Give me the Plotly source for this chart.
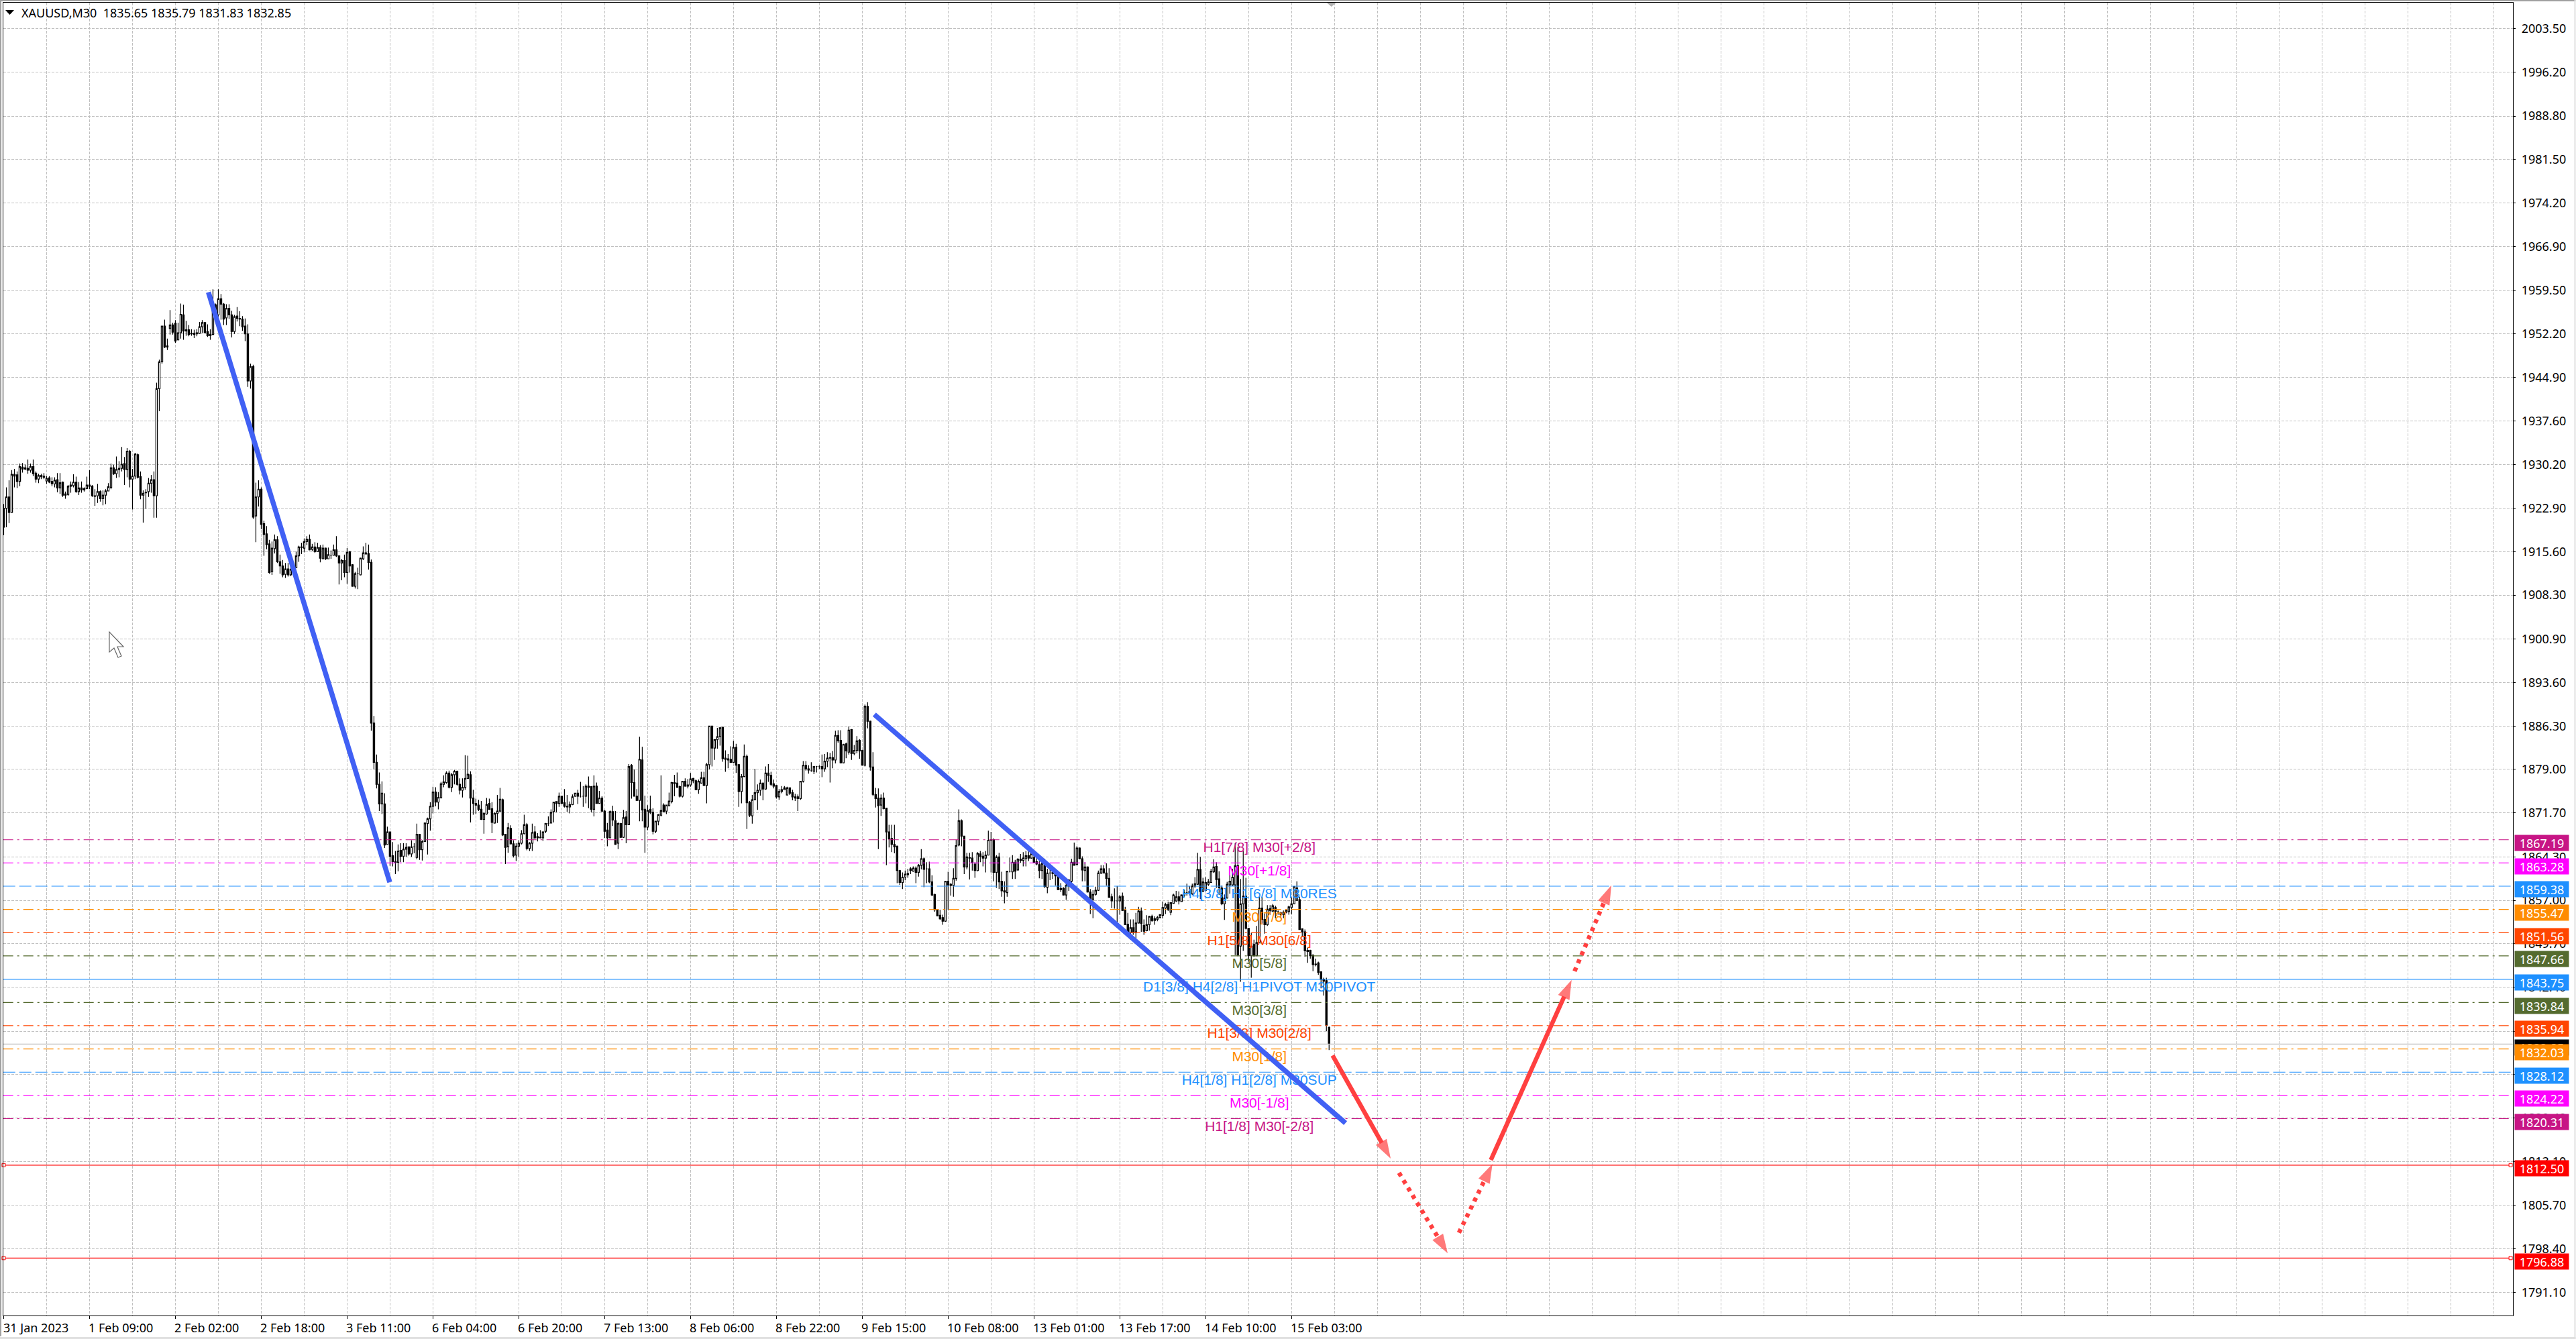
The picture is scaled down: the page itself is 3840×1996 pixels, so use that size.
import plotly.graph_objects as go

# chart size in screen pixels
W, H = 3840, 1996
ML, MR, MT, MB = 5, 93.5, 4, 35

open_prices = [
    1922.9,1922.9,1924.8,1922.2,1928.6,1928.5,1927.4,1929.8,1929.7,1929.6,
    1929.3,1929.9,1928.8,1927.8,1928.4,1928.3,1927.5,1928.0,1927.4,1927.0,
    1927.7,1926.3,1927.3,1925.1,1925.2,1926.6,1926.7,1927.3,1925.7,1926.3,
    1926.0,1926.2,1926.8,1926.6,1925.0,1925.0,1925.7,1924.5,1925.1,1925.8,
    1926.4,1929.7,1928.7,1929.4,1929.6,1930.4,1929.4,1932.5,1927.8,1928.3,
    1931.9,1928.2,1925.1,1925.6,1925.7,1927.1,1927.7,1925.0,1943.0,1947.5,
    1953.5,1950.2,1953.1,1953.7,1954.0,1951.2,1952.4,1955.4,1952.9,1952.9,
    1952.3,1952.3,1952.2,1952.3,1953.4,1954.1,1952.6,1951.9,1952.1,1957.1,
    1955.4,1958.1,1957.2,1954.9,1956.5,1955.4,1952.6,1955.2,1954.8,1954.7,
    1953.5,1952.2,1944.3,1946.7,1921.6,1924.8,1926.1,1920.3,1918.6,1916.9,
    1912.2,1916.1,1917.6,1913.9,1913.2,1911.8,1912.7,1911.7,1912.6,1912.9,
    1914.9,1916.3,1916.2,1917.3,1917.7,1916.0,1916.4,1915.6,1916.3,1914.4,
    1916.2,1914.4,1915.0,1915.0,1915.9,1914.9,1913.7,1914.1,1912.1,1915.6,
    1913.4,1909.8,1911.9,1911.7,1914.4,1915.4,1915.3,1913.8,1886.8,1880.2,
    1876.5,1873.2,1873.2,1866.4,1868.5,1864.5,1863.5,1863.4,1865.4,1864.4,
    1865.6,1866.0,1864.8,1866.0,1864.2,1868.1,1865.5,1866.9,1869.9,1870.7,
    1872.8,1875.2,1873.5,1874.3,1876.5,1876.8,1878.4,1876.0,1878.1,1878.7,
    1876.5,1875.5,1876.0,1877.5,1878.1,1874.2,1873.3,1873.0,1872.3,1870.6,
    1871.5,1873.3,1872.4,1870.0,1871.6,1872.0,1873.9,1868.1,1866.0,1869.1,
    1866.5,1864.6,1866.1,1866.6,1868.2,1869.7,1865.7,1866.6,1868.5,1867.7,
    1867.6,1867.5,1868.6,1869.9,1870.0,1871.9,1873.6,1873.3,1874.5,1873.4,
    1872.8,1872.7,1873.1,1874.5,1875.0,1874.5,1874.5,1874.5,1876.2,1876.1,
    1872.3,1876.2,1873.3,1874.2,1872.0,1868.8,1867.5,1871.9,1870.4,1866.6,
    1869.9,1867.6,1871.0,1869.7,1879.7,1876.8,1874.5,1873.8,1880.6,1872.3,
    1869.3,1872.3,1871.8,1868.6,1870.3,1871.3,1873.0,1872.0,1872.9,1873.6,
    1876.8,1876.7,1876.1,1874.5,1877.0,1876.2,1876.4,1877.5,1877.1,1875.6,
    1876.7,1877.6,1876.3,1879.8,1886.3,1882.6,1884.0,1884.5,1886.1,1880.9,
    1880.8,1880.7,1880.2,1882.7,1879.8,1875.3,1877.8,1881.2,1873.5,1871.2,
    1873.9,1875.1,1875.5,1876.7,1875.7,1878.4,1878.0,1876.6,1876.3,1874.4,
    1875.3,1875.6,1874.7,1875.9,1875.1,1874.4,1874.4,1874.1,1877.0,1879.7,
    1879.1,1878.8,1878.7,1879.5,1879.5,1879.5,1879.1,1880.4,1880.9,1881.0,
    1880.6,1884.7,1883.9,1880.1,1883.3,1881.9,1885.7,1881.7,1882.2,1883.9,
    1882.2,1879.7,1889.6,1887.1,1879.4,1874.8,1874.2,1873.0,1874.2,1872.5,
    1868.5,1867.4,1866.4,1866.1,1862.0,1860.0,1860.9,1861.3,1862.3,1861.9,
    1862.4,1861.7,1862.9,1864.0,1862.3,1862.3,1860.1,1858.0,1855.4,1854.5,
    1854.1,1853.5,1860.2,1859.7,1859.5,1860.7,1866.3,1870.4,1867.8,1862.6,
    1864.2,1864.1,1863.1,1862.0,1864.8,1864.4,1864.1,1864.6,1867.1,1867.2,
    1861.7,1864.3,1860.2,1858.6,1858.3,1861.9,1861.8,1863.4,1862.1,1863.9,
    1863.7,1864.0,1864.5,1864.1,1864.2,1863.5,1863.0,1862.0,1862.9,1859.2,
    1861.6,1861.7,1861.5,1861.1,1859.0,1859.0,1857.9,1859.4,1860.2,1863.4,
    1863.0,1865.8,1864.0,1862.0,1862.6,1858.4,1857.2,1858.0,1858.7,1861.6,
    1862.3,1861.6,1860.7,1857.6,1856.9,1856.9,1856.9,1857.7,1855.4,1853.0,
    1851.6,1852.4,1851.7,1853.2,1855.2,1852.8,1851.9,1852.9,1854.3,1853.6,
    1853.8,1854.1,1854.5,1855.7,1856.3,1855.0,1856.5,1856.9,1857.6,1856.8,
    1857.8,1858.3,1858.3,1858.1,1859.4,1859.7,1862.2,1858.5,1858.7,1859.7,
    1860.0,1861.8,1862.7,1860.6,1859.1,1856.4,1857.4,1859.6,1859.6,1859.6,
    1862.8,1849.3,1856.4,1857.7,1852.3,1847.7,1849.6,1847.7,1849.9,1855.7,
    1853.8,1852.9,1855.6,1855.2,1855.8,1855.1,1854.6,1854.6,1855.0,1855.1,
    1855.8,1856.4,1857.0,1857.1,1852.2,1851.7,1848.4,1848.6,1847.8,1846.3,
    1846.5,1845.0,1843.7,1843.5,1835.65,
]
high_prices = [
    1923.6,1926.4,1927.6,1929.3,1929.5,1929.1,1930.4,1930.5,1930.2,1931.1,
    1930.4,1931.1,1929.1,1928.7,1928.7,1928.8,1928.3,1928.3,1928.1,1928.1,
    1928.8,1928.8,1927.4,1925.7,1926.8,1927.4,1928.6,1928.2,1927.3,1927.4,
    1926.4,1928.2,1929.3,1926.8,1926.1,1927.0,1925.9,1925.9,1926.1,1927.1,
    1930.4,1930.2,1931.6,1930.8,1933.2,1931.5,1933.0,1932.7,1929.5,1932.2,
    1932.1,1929.1,1925.9,1926.1,1928.0,1928.5,1929.1,1944.0,1947.9,1953.5,
    1954.6,1951.4,1956.2,1954.1,1954.5,1954.1,1957.3,1957.1,1954.4,1953.7,
    1953.0,1952.9,1953.0,1954.2,1954.5,1954.2,1953.8,1953.0,1959.7,1957.3,
    1959.7,1958.9,1957.4,1957.2,1957.2,1956.1,1955.4,1956.7,1956.0,1955.2,
    1954.8,1953.8,1947.2,1947.0,1927.2,1927.6,1926.4,1920.8,1919.9,1917.6,
    1917.3,1918.5,1918.2,1915.1,1914.2,1913.7,1913.7,1913.3,1913.9,1915.6,
    1916.6,1917.1,1917.8,1918.2,1918.5,1916.9,1917.2,1917.1,1916.7,1916.8,
    1916.3,1916.3,1915.8,1916.8,1918.2,1915.0,1914.4,1915.1,1916.2,1915.7,
    1913.5,1912.2,1912.9,1914.6,1916.5,1917.1,1916.8,1914.3,1888.0,1881.5,
    1878.5,1877.0,1875.0,1869.4,1868.5,1866.8,1865.3,1866.4,1866.6,1866.6,
    1866.6,1866.0,1867.1,1866.6,1869.9,1868.1,1867.1,1870.1,1870.9,1873.5,
    1876.1,1876.0,1875.2,1876.9,1878.0,1878.7,1878.8,1878.4,1878.9,1878.8,
    1877.5,1877.5,1881.4,1881.3,1878.7,1875.6,1874.1,1873.9,1873.7,1871.8,
    1874.2,1874.1,1873.5,1871.8,1874.7,1875.9,1874.1,1868.1,1870.0,1869.6,
    1867.1,1866.6,1867.1,1868.8,1871.4,1870.0,1866.8,1869.9,1869.5,1868.3,
    1868.8,1868.6,1870.0,1871.1,1872.3,1873.5,1873.6,1875.1,1874.5,1875.7,
    1874.7,1873.6,1874.8,1875.0,1875.6,1876.9,1876.2,1876.5,1877.8,1876.2,
    1878.0,1876.8,1875.4,1874.5,1872.2,1870.0,1872.1,1872.9,1872.0,1870.1,
    1870.0,1872.2,1872.0,1879.9,1879.9,1879.0,1875.7,1884.5,1882.8,1874.6,
    1873.0,1874.6,1872.5,1870.3,1871.5,1878.0,1873.3,1873.0,1875.1,1876.9,
    1878.1,1878.5,1876.3,1877.0,1877.5,1877.4,1878.4,1877.6,1877.3,1877.3,
    1878.6,1878.6,1880.1,1886.3,1886.3,1884.1,1886.0,1886.1,1886.1,1882.2,
    1881.6,1882.9,1883.8,1883.3,1879.9,1878.2,1883.2,1881.5,1873.7,1874.7,
    1879.1,1876.5,1877.3,1876.8,1879.5,1879.9,1878.6,1877.3,1876.4,1875.7,
    1876.2,1876.2,1876.1,1875.9,1875.6,1874.9,1874.8,1877.0,1880.4,1880.4,
    1879.7,1880.2,1879.6,1879.6,1879.7,1881.5,1881.6,1881.9,1881.8,1882.1,
    1885.5,1885.6,1885.6,1883.3,1883.5,1886.2,1885.8,1883.1,1884.6,1884.1,
    1882.3,1889.9,1890.3,1887.2,1881.9,1875.9,1875.8,1874.8,1875.1,1872.5,
    1869.7,1869.7,1869.7,1866.2,1862.1,1861.7,1862.0,1862.3,1862.6,1862.7,
    1862.7,1863.1,1865.6,1864.2,1863.4,1863.5,1861.2,1858.1,1855.4,1855.4,
    1854.6,1860.2,1861.8,1859.9,1862.4,1867.2,1872.3,1870.6,1867.8,1865.0,
    1865.0,1865.1,1863.4,1865.1,1865.3,1865.1,1865.3,1868.7,1868.5,1867.4,
    1864.6,1865.0,1861.8,1860.2,1861.9,1864.2,1864.6,1863.8,1864.1,1864.8,
    1865.1,1865.3,1865.5,1865.3,1864.8,1864.2,1863.6,1863.6,1864.0,1862.3,
    1862.5,1862.5,1862.1,1861.2,1859.9,1859.2,1859.9,1860.6,1864.0,1866.7,
    1866.1,1865.9,1864.4,1863.4,1862.7,1858.9,1858.7,1859.3,1862.0,1862.9,
    1862.9,1863.2,1862.4,1858.1,1859.0,1859.4,1857.9,1858.3,1855.9,1854.9,
    1853.8,1853.8,1854.9,1855.9,1855.8,1853.8,1854.5,1854.4,1854.6,1854.3,
    1854.4,1854.6,1856.8,1856.6,1856.8,1856.7,1858.1,1858.6,1858.5,1858.0,
    1858.7,1859.8,1859.4,1859.8,1860.9,1865.0,1864.3,1860.8,1860.9,1860.6,
    1862.3,1863.9,1863.4,1861.9,1859.5,1858.0,1860.1,1861.2,1862.3,1866.6,
    1866.0,1860.6,1865.3,1860.8,1852.3,1851.5,1850.4,1852.7,1857.7,1857.6,
    1854.8,1856.2,1856.2,1856.4,1856.1,1855.3,1855.1,1855.3,1855.5,1856.1,
    1857.5,1859.4,1860.2,1857.6,1852.3,1852.1,1849.0,1848.7,1847.9,1847.2,
    1846.7,1845.0,1844.0,1844.0,1835.79,
]
low_prices = [
    1918.4,1919.7,1920.4,1922.2,1926.4,1926.3,1926.6,1928.9,1929.3,1928.7,
    1928.9,1928.3,1927.2,1927.1,1927.8,1927.8,1927.0,1927.1,1926.6,1926.4,
    1925.6,1925.3,1924.8,1924.5,1925.0,1925.5,1926.4,1925.5,1925.1,1925.5,
    1925.7,1926.1,1926.1,1924.8,1923.3,1923.8,1924.0,1923.4,1923.6,1925.8,
    1926.1,1928.5,1928.0,1928.1,1929.1,1926.8,1928.1,1926.4,1922.7,1927.8,
    1927.9,1924.4,1920.5,1922.8,1924.8,1925.5,1921.3,1921.3,1939.2,1947.2,
    1949.8,1949.5,1952.1,1952.1,1950.7,1951.1,1951.4,1951.2,1951.9,1951.8,
    1951.9,1951.5,1951.8,1952.2,1952.4,1952.4,1951.7,1951.2,1952.0,1954.2,
    1954.6,1954.6,1953.7,1953.7,1954.7,1951.6,1952.2,1954.3,1953.5,1952.7,
    1951.0,1943.3,1943.0,1921.1,1917.2,1923.2,1919.4,1914.9,1916.0,1911.9,
    1911.7,1915.3,1913.7,1911.9,1911.3,1911.2,1911.4,1911.5,1912.4,1912.9,
    1913.9,1915.2,1915.5,1916.7,1915.8,1915.7,1915.4,1915.6,1913.8,1914.4,
    1914.2,1914.4,1914.4,1915.0,1914.7,1910.1,1910.8,1911.3,1910.2,1912.1,
    1909.7,1909.4,1909.3,1911.6,1914.2,1915.2,1912.6,1885.5,1879.0,1875.8,
    1872.0,1871.5,1865.8,1866.3,1862.8,1862.7,1861.4,1861.9,1863.4,1863.4,
    1864.3,1864.5,1864.3,1864.9,1863.9,1863.8,1863.7,1866.8,1864.7,1868.7,
    1871.6,1872.8,1872.3,1874.1,1876.0,1876.6,1875.8,1875.2,1876.5,1876.3,
    1874.8,1874.3,1875.6,1877.4,1870.1,1871.4,1871.5,1872.0,1870.5,1868.2,
    1871.4,1872.2,1868.3,1869.9,1870.0,1871.9,1867.8,1863.1,1865.0,1866.4,
    1864.2,1863.6,1864.3,1866.4,1868.1,1865.4,1865.3,1865.3,1867.3,1866.9,
    1867.4,1867.0,1868.3,1869.5,1870.0,1870.1,1871.8,1872.7,1873.2,1872.6,
    1871.9,1871.6,1873.0,1874.4,1873.2,1874.3,1872.7,1873.3,1872.5,1871.8,
    1871.1,1873.3,1873.3,1871.8,1867.5,1866.1,1867.5,1869.5,1866.3,1865.6,
    1867.5,1867.5,1866.6,1869.7,1874.1,1874.5,1873.7,1870.3,1870.3,1865.0,
    1868.8,1871.5,1868.1,1868.3,1869.6,1871.1,1871.8,1871.5,1872.8,1873.3,
    1874.5,1875.9,1874.3,1874.3,1876.1,1875.8,1876.1,1876.7,1875.5,1874.9,
    1876.6,1876.2,1873.3,1879.0,1879.5,1880.6,1882.5,1883.0,1880.3,1878.6,
    1879.2,1880.1,1880.1,1878.4,1872.7,1873.3,1877.7,1869.0,1871.0,1869.9,
    1873.8,1872.2,1874.6,1873.8,1875.6,1876.9,1876.2,1875.8,1874.1,1873.9,
    1875.0,1875.5,1874.7,1874.7,1873.8,1873.7,1872.0,1873.9,1876.8,1878.8,
    1878.3,1878.6,1878.2,1878.5,1879.1,1877.7,1878.6,1879.4,1876.8,1879.2,
    1880.0,1883.5,1880.0,1880.0,1880.9,1881.5,1880.6,1881.4,1881.7,1880.8,
    1879.7,1879.5,1885.9,1878.8,1874.5,1872.6,1865.6,1871.2,1872.3,1862.9,
    1865.9,1865.1,1864.9,1859.9,1859.6,1858.9,1860.4,1860.8,1861.4,1861.8,
    1859.9,1861.0,1862.2,1859.2,1859.9,1859.9,1857.7,1855.1,1854.3,1853.7,
    1852.9,1853.4,1855.4,1857.8,1857.6,1860.3,1866.1,1866.1,1861.4,1862.2,
    1860.5,1862.0,1860.8,1861.9,1863.4,1862.7,1861.7,1864.6,1861.7,1860.2,
    1859.1,1858.9,1857.6,1856.5,1857.6,1861.7,1860.6,1860.6,1862.0,1863.3,
    1862.7,1862.7,1863.6,1864.0,1863.3,1862.9,1860.7,1860.6,1859.1,1858.2,
    1860.4,1860.6,1859.5,1858.7,1858.4,1857.8,1857.1,1858.6,1859.1,1862.9,
    1862.9,1863.9,1860.2,1860.2,1858.3,1854.7,1854.0,1857.8,1858.6,1861.4,
    1861.6,1859.5,1857.4,1855.7,1855.6,1853.2,1854.6,1855.2,1852.9,1851.4,
    1850.4,1851.2,1850.4,1853.1,1851.7,1851.2,1851.8,1851.9,1853.4,1852.9,
    1853.5,1854.0,1854.0,1854.7,1855.2,1854.5,1856.5,1856.7,1856.3,1856.8,
    1857.6,1857.8,1857.8,1857.9,1859.1,1859.6,1857.2,1858.5,1858.5,1859.4,
    1860.0,1861.6,1859.1,1857.9,1856.2,1853.7,1857.3,1858.1,1859.4,1847.8,
    1847.6,1843.3,1848.5,1852.1,1846.7,1844.0,1847.5,1847.6,1849.9,1853.1,
    1851.4,1852.7,1854.6,1855.0,1854.0,1854.6,1854.0,1854.0,1854.8,1854.6,
    1854.7,1856.4,1857.0,1852.1,1850.8,1847.5,1846.5,1847.2,1845.1,1845.9,
    1844.5,1842.2,1841.0,1835.0,1831.83,
]
close_prices = [
    1919.7,1924.8,1922.2,1928.6,1928.3,1927.4,1929.9,1929.5,1929.5,1929.3,
    1929.9,1928.7,1927.8,1928.4,1928.2,1928.1,1927.9,1927.3,1927.0,1927.6,
    1926.3,1927.2,1925.1,1925.3,1926.6,1926.8,1927.3,1925.7,1926.3,1926.0,
    1926.2,1926.8,1926.6,1925.0,1924.9,1925.7,1924.5,1925.1,1925.8,1926.5,
    1929.7,1928.7,1929.4,1929.6,1930.3,1929.4,1932.5,1927.8,1928.3,1932.0,
    1928.1,1925.1,1925.4,1925.5,1927.1,1927.7,1925.0,1943.0,1947.5,1953.5,
    1950.0,1950.0,1953.7,1952.5,1951.0,1952.4,1955.5,1952.7,1952.7,1952.1,
    1952.2,1952.1,1952.4,1953.4,1954.1,1952.4,1951.9,1952.1,1957.1,1955.6,
    1958.1,1957.2,1954.7,1956.5,1955.4,1952.6,1955.1,1954.8,1954.7,1953.4,
    1952.2,1944.3,1946.7,1921.4,1924.8,1926.1,1920.2,1918.5,1916.8,1912.1,
    1916.2,1917.6,1913.9,1913.2,1911.7,1912.7,1911.7,1912.6,1913.0,1914.9,
    1916.4,1916.4,1917.3,1917.7,1915.9,1916.4,1915.6,1916.3,1914.5,1916.2,
    1914.4,1915.1,1915.0,1915.9,1914.9,1913.7,1914.1,1912.1,1915.5,1913.2,
    1909.8,1911.9,1911.9,1914.5,1915.4,1915.2,1913.8,1886.8,1880.2,1876.5,
    1873.2,1875.0,1866.3,1868.5,1864.4,1863.5,1863.3,1865.3,1864.4,1865.6,
    1865.9,1864.8,1866.0,1866.0,1868.1,1865.5,1866.9,1870.0,1870.7,1872.8,
    1875.2,1873.5,1874.3,1876.6,1876.9,1878.4,1876.0,1878.1,1878.7,1876.5,
    1875.5,1876.0,1877.5,1878.2,1874.2,1873.3,1873.0,1872.3,1870.6,1871.6,
    1873.1,1872.3,1870.1,1871.6,1872.0,1874.0,1868.0,1865.9,1869.2,1866.5,
    1864.5,1866.1,1866.6,1868.2,1869.7,1865.7,1866.6,1868.4,1867.5,1867.5,
    1867.5,1868.5,1869.9,1869.9,1871.8,1873.5,1873.3,1874.5,1873.3,1872.8,
    1872.7,1873.1,1874.4,1875.0,1874.5,1874.5,1874.5,1876.2,1876.0,1872.3,
    1876.2,1873.3,1874.2,1872.0,1868.6,1867.5,1871.9,1870.5,1866.4,1869.9,
    1867.6,1870.9,1869.7,1879.5,1876.8,1874.5,1873.8,1880.7,1872.2,1869.3,
    1872.1,1871.8,1868.6,1870.3,1871.4,1872.1,1871.9,1873.0,1873.7,1876.8,
    1876.6,1876.0,1874.5,1877.0,1876.2,1876.4,1877.4,1877.1,1875.6,1877.0,
    1877.6,1876.3,1879.8,1886.3,1882.6,1884.0,1884.5,1886.0,1880.8,1880.7,
    1880.6,1880.2,1882.7,1879.7,1875.3,1877.8,1881.2,1873.4,1871.3,1873.9,
    1875.1,1875.5,1876.7,1875.7,1878.4,1878.0,1876.5,1876.2,1874.4,1875.3,
    1875.6,1875.9,1875.9,1875.0,1874.4,1874.2,1874.1,1877.0,1879.7,1879.1,
    1878.9,1878.8,1879.5,1879.5,1879.5,1879.1,1880.4,1880.9,1881.0,1880.6,
    1884.7,1883.8,1880.1,1883.2,1882.1,1885.6,1881.7,1882.2,1883.8,1882.1,
    1879.7,1889.6,1887.1,1879.4,1874.8,1874.1,1872.9,1874.2,1872.4,1868.5,
    1867.3,1866.4,1866.0,1862.0,1860.0,1860.9,1861.4,1861.5,1862.0,1862.4,
    1861.7,1862.9,1864.0,1862.2,1862.3,1860.1,1857.9,1855.4,1854.4,1853.9,
    1853.5,1860.2,1859.6,1859.5,1860.7,1866.2,1870.4,1867.8,1862.6,1864.3,
    1864.1,1863.4,1862.0,1864.9,1864.4,1864.1,1864.6,1867.1,1867.2,1861.7,
    1864.3,1860.1,1858.6,1858.4,1861.9,1861.9,1863.4,1861.9,1863.9,1863.7,
    1864.1,1864.5,1864.1,1864.8,1863.4,1863.1,1862.0,1863.2,1859.3,1861.6,
    1861.6,1861.5,1861.1,1858.8,1858.8,1857.9,1859.5,1860.4,1863.4,1862.9,
    1865.8,1864.0,1862.1,1862.6,1858.4,1857.2,1858.0,1858.7,1861.6,1862.3,
    1861.6,1860.7,1857.5,1856.9,1856.9,1856.9,1857.6,1855.3,1852.9,1851.7,
    1852.4,1851.7,1853.2,1855.2,1853.1,1851.8,1852.9,1854.3,1853.6,1853.9,
    1854.1,1854.6,1855.8,1856.3,1855.5,1856.6,1857.9,1857.6,1856.9,1857.9,
    1858.3,1858.3,1858.5,1859.4,1859.8,1862.2,1858.5,1860.1,1860.0,1860.1,
    1861.9,1862.6,1860.5,1859.1,1856.4,1857.4,1859.7,1860.2,1860.9,1862.8,
    1847.8,1856.4,1857.7,1852.3,1847.7,1849.3,1847.7,1849.9,1855.7,1853.8,
    1852.9,1855.5,1855.3,1856.1,1855.1,1855.1,1854.9,1855.0,1855.3,1855.9,
    1856.4,1859.3,1859.1,1852.1,1851.7,1848.5,1848.6,1847.7,1846.2,1846.2,
    1844.9,1843.7,1843.4,1836.0,1832.85,
]

y_ticks = [2003.50,1996.20,1988.80,1981.50,1974.20,1966.90,1959.50,1952.20,1944.90,1937.60,
           1930.20,1922.90,1915.60,1908.30,1900.90,1893.60,1886.30,1879.00,1871.70,1864.30,
           1857.00,1849.70,1842.40,1835.00,1827.70,1820.40,1813.10,1805.70,1798.40,1791.10]
x_labels = ["31 Jan 2023","1 Feb 09:00","2 Feb 02:00","2 Feb 18:00","3 Feb 11:00","6 Feb 04:00",
            "6 Feb 20:00","7 Feb 13:00","8 Feb 06:00","8 Feb 22:00","9 Feb 15:00","10 Feb 08:00",
            "13 Feb 01:00","13 Feb 17:00","14 Feb 10:00","15 Feb 03:00"]

level_values = [1867.19,1863.28,1859.38,1855.47,1851.56,1847.66,1843.75,1839.84,1835.94,1832.03,1828.12,1824.22,1820.31]
level_names = ["H1[7/8] M30[+2/8]","M30[+1/8]","H4[3/8] H1[6/8] M30RES","M30[7/8]","H1[5/8] M30[6/8]","M30[5/8]",
               "D1[3/8] H4[2/8] H1PIVOT M30PIVOT","M30[3/8]","H1[3/8] M30[2/8]","M30[1/8]",
               "H4[1/8] H1[2/8] M30SUP","M30[-1/8]","H1[1/8] M30[-2/8]"]
level_colors = ["#C71585","#FF00FF","#1E90FF","#FF8C00","#FF4500","#556B2F","#1E90FF","#556B2F","#FF4500","#FF8C00",
                "#1E90FF","#FF00FF","#C71585"]
level_dashes = ["dd","dd","long","dd","dd","dd","solid","dd","dd","dd","long","dd","dd"]
target_values = [1812.50,1796.88]
last_price = 1832.85

# hand drawn lines: [start bar, end bar], [start price, end price]
trend_lines = [([76.3,143.9],[1959.2,1860.05]), ([324.5,500.1],[1888.24,1819.57])]
arrows = [
    ([495.3,516.95],[1830.93,1813.59],"solid"),
    ([520.05,538.2],[1811.21,1797.68],"dots"),
    ([542.4,554.9],[1801.13,1812.69],"dots"),
    ([554.3,584.4],[1813.36,1843.61],"solid"),
    ([585.5,599.2],[1845.09,1859.52],"dots"),
]

DASHES = {"dd": "15px,6px,3px,6px", "long": "18px,6px", "solid": "solid", "dots": "6px,7px"}
GRID = "#C0C0C0"
GRID_DASH = "4px,2px"
RED = "#FF4040"
LEVEL_END = 934.4
FONT = "Noto Sans"
TEXT_DROP = 0.3  # level names hang slightly under their line


def paper_x(px):
    return (px - ML) / (W - ML - MR)


def paper_y(px):
    return 1 - (px - MT) / (H - MT - MB)


def path(points):
    return "M" + "L".join(f"{paper_x(a)},{paper_y(b)}" for a, b in points) + "Z"


bars = list(range(len(open_prices)))
fig = go.Figure()

fig.add_trace(go.Scatter(x=[-0.2, 935.3], y=[last_price, last_price], mode="lines",
                         line=dict(color="#BEBEBE", width=1.2), hoverinfo="skip", showlegend=False))

fig.add_trace(go.Candlestick(
    x=bars, open=open_prices, high=high_prices, low=low_prices, close=close_prices,
    increasing=dict(fillcolor="white", line=dict(color="black", width=1.2)),
    decreasing=dict(fillcolor="black", line=dict(color="black", width=1.2)),
    whiskerwidth=0, hoverinfo="skip", showlegend=False,
))

for value, color, dash in zip(level_values, level_colors, level_dashes):
    end = 935.3 if dash == "solid" else LEVEL_END
    fig.add_trace(go.Scatter(x=[-0.2, end], y=[value, value], mode="lines",
                             line=dict(color=color, width=1.2, dash=DASHES[dash]),
                             hoverinfo="skip", showlegend=False))

for value in target_values:
    fig.add_trace(go.Scatter(x=[0, LEVEL_END], y=[value, value], mode="lines+markers",
                             line=dict(color="red", width=1.2),
                             marker=dict(symbol="square", size=5, color="white", line=dict(color="red", width=1)),
                             cliponaxis=False, hoverinfo="skip", showlegend=False))

# level names sit in the trace layer because the blue lines cross over them
for value, name, color in zip(level_values, level_names, level_colors):
    fig.add_trace(go.Scatter(x=[468], y=[value - TEXT_DROP], mode="text", text=[name], textposition="bottom center",
                             textfont=dict(family="Liberation Sans", size=21, color=color),
                             hoverinfo="skip", showlegend=False))

for xs, ys in trend_lines:
    fig.add_trace(go.Scatter(x=xs, y=ys, mode="lines", line=dict(color="#4060F4", width=7.5),
                             hoverinfo="skip", showlegend=False))

for xs, ys, style in arrows:
    fig.add_trace(go.Scatter(x=xs, y=ys, mode="lines+markers",
                             line=dict(color=RED, width=6.5, dash=DASHES[style]),
                             marker=dict(symbol=["circle", "arrow"], size=[6.5, 30], color=RED, angleref="previous",
                                         line=dict(width=0)),
                             hoverinfo="skip", showlegend=False))

annotations = [dict(
    xref="paper", yref="paper", x=paper_x(30), y=paper_y(19), xanchor="left", yanchor="middle", showarrow=False,
    text="XAUUSD,M30&nbsp;&nbsp;1835.65 1835.79 1831.83 1832.85", font=dict(family=FONT, size=18, color="black"),
)]

for i, label in enumerate(x_labels):
    annotations.append(dict(xref="x", yref="paper", x=i * 32, y=0, xshift=-2, yshift=-5, xanchor="left", yanchor="top",
                            showarrow=False, text=label, font=dict(family=FONT, size=18, color="black"),
                            borderpad=0))

tags = [(last_price, "black")] + list(zip(level_values, level_colors)) + [(v, "#FF0000") for v in target_values]
for value, color in tags:
    annotations.append(dict(xref="paper", yref="y", x=1, y=value, xshift=1.5, yshift=-5, xanchor="left",
                            yanchor="middle", showarrow=False, text=f"{value:.2f}", width=80, height=23,
                            align="center", valign="middle", bgcolor=color, borderpad=0,
                            font=dict(family=FONT, size=18, color="white")))

shapes = [
    # terminal window edges
    dict(type="rect", xref="paper", yref="paper", x0=paper_x(0), x1=paper_x(W), y0=paper_y(0), y1=paper_y(2),
         fillcolor="#A0A0A0", line_width=0),
    dict(type="rect", xref="paper", yref="paper", x0=paper_x(0), x1=paper_x(2), y0=paper_y(0), y1=paper_y(1992),
         fillcolor="#A0A0A0", line_width=0),
    dict(type="rect", xref="paper", yref="paper", x0=paper_x(3838), x1=paper_x(W), y0=paper_y(0), y1=paper_y(H),
         fillcolor="#E0E0E0", line_width=0),
    dict(type="rect", xref="paper", yref="paper", x0=paper_x(0), x1=paper_x(W), y0=paper_y(1993), y1=paper_y(H),
         fillcolor="#E0E0E0", line_width=0),
    # legend triangle, chart shift mark, mouse cursor
    dict(type="path", xref="paper", yref="paper", path=path([(8, 15), (21, 15), (14.5, 22)]),
         fillcolor="black", line_width=0),
    dict(type="path", xref="paper", yref="paper", path=path([(1978, 4), (1992, 4), (1985, 10)]),
         fillcolor="#B0B0B0", line_width=0),
    dict(type="path", xref="paper", yref="paper",
         path=path([(163, 942), (163, 972), (170, 966), (176, 980), (181, 978), (175, 964), (184, 964)]),
         fillcolor="white", line=dict(color="#666666", width=1.2)),
]

fig.update_layout(
    width=W, height=H, margin=dict(l=ML, r=MR, t=MT, b=MB, pad=0),
    paper_bgcolor="white", plot_bgcolor="white", showlegend=False, boxgap=0.2,
    annotations=annotations, shapes=shapes,
)
fig.update_xaxes(
    range=[-0.125, 935.25], rangeslider_visible=False, showticklabels=False,
    tickmode="array", tickvals=[i * 32 for i in range(len(x_labels))], ticks="outside", ticklen=4, tickcolor="black",
    showgrid=True, gridcolor=GRID, griddash=GRID_DASH, gridwidth=1, zeroline=False,
    minor=dict(tickmode="array", tickvals=list(range(0, 936, 16)), ticks="", showgrid=True,
               gridcolor=GRID, griddash=GRID_DASH, gridwidth=1),
    showline=True, mirror=True, linecolor="black", linewidth=1.2,
)
fig.update_yaxes(
    range=[1787.22, 2007.87], side="right", tickmode="array", tickvals=y_ticks, ticktext=[f"{v:.2f}" for v in y_ticks],
    ticks="outside", ticklen=3, tickcolor="black", ticklabelstandoff=5,
    tickfont=dict(family=FONT, size=18, color="black"),
    showgrid=True, gridcolor=GRID, griddash=GRID_DASH, gridwidth=1, zeroline=False,
    showline=True, mirror=True, linecolor="black", linewidth=1.2,
)

fig.write_html("out.html", config={"displayModeBar": False},
               post_script="document.body.style.margin='0';document.body.style.overflow='hidden';")
